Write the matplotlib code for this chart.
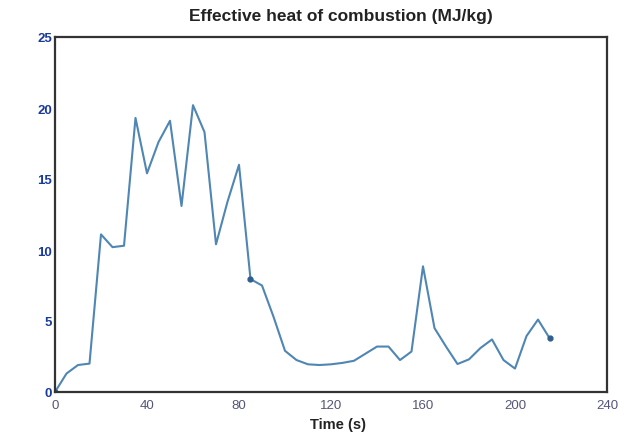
import matplotlib
matplotlib.use("Agg")
import matplotlib.pyplot as plt

time_s = [0, 5, 10, 15, 20, 25, 30, 35, 40, 45, 50, 55, 60, 65, 70, 75, 80, 85,
          90, 95, 100, 105, 110, 115, 120, 125, 130, 135, 140, 145, 150, 155,
          160, 165, 170, 175, 180, 185, 190, 195, 200, 205, 210, 215]
ehc = [0.0, 1.3, 1.9, 2.0, 11.1, 10.2, 10.3, 19.3, 15.4, 17.6, 19.1, 13.1,
       20.2, 18.3, 10.4, 13.4, 16.0, 7.95, 7.5, 5.3, 2.9, 2.25, 1.95, 1.9,
       1.95, 2.05, 2.2, 2.7, 3.2, 3.2, 2.25, 2.85, 8.85, 4.5, 3.2, 1.97,
       2.3, 3.1, 3.7, 2.25, 1.65, 3.94, 5.1, 3.8]
x_ticks = [0, 40, 80, 120, 160, 200, 240]
y_ticks = [0, 5, 10, 15, 20, 25]
title = "Effective heat of combustion (MJ/kg)"
xlabel = "Time (s)"

plt.rcParams['font.family'] = ['Liberation Sans', 'DejaVu Sans']

fig = plt.figure(figsize=(6.29, 4.35), dpi=100)
ax = fig.add_axes([55/629, 1 - 393/435, (607 - 55)/629, (393 - 38)/435])

ax.plot(time_s, ehc, color='#4f86b3', lw=1.5,
        marker='o', markersize=3.5, markevery=[0, 17, 43],
        markerfacecolor='#2f5f8f', markeredgecolor='#2f5f8f')

ax.set_xlim(0, 240)
ax.set_ylim(0, 25)
ax.set_xticks(x_ticks)
ax.set_yticks(y_ticks)
ax.tick_params(length=0, labelsize=9.5, pad=5)
ax.tick_params(axis='y', labelcolor='#1a3a9a', pad=2)
ax.tick_params(axis='x', labelcolor='#55557a')
for lab in ax.get_yticklabels():
    lab.set_fontweight('bold')
for s in ax.spines.values():
    s.set_color('#333333')
    s.set_linewidth(1.6)

fig.text(341/629, 1 - 16/435, title, ha='center', va='center',
         fontsize=12.5, fontweight='bold', color='#222222')
fig.text(338/629, 1 - 425/435, xlabel, ha='center', va='center',
         fontsize=10.5, fontweight='bold', color='#222222')

fig.savefig('out.png', dpi=100)
